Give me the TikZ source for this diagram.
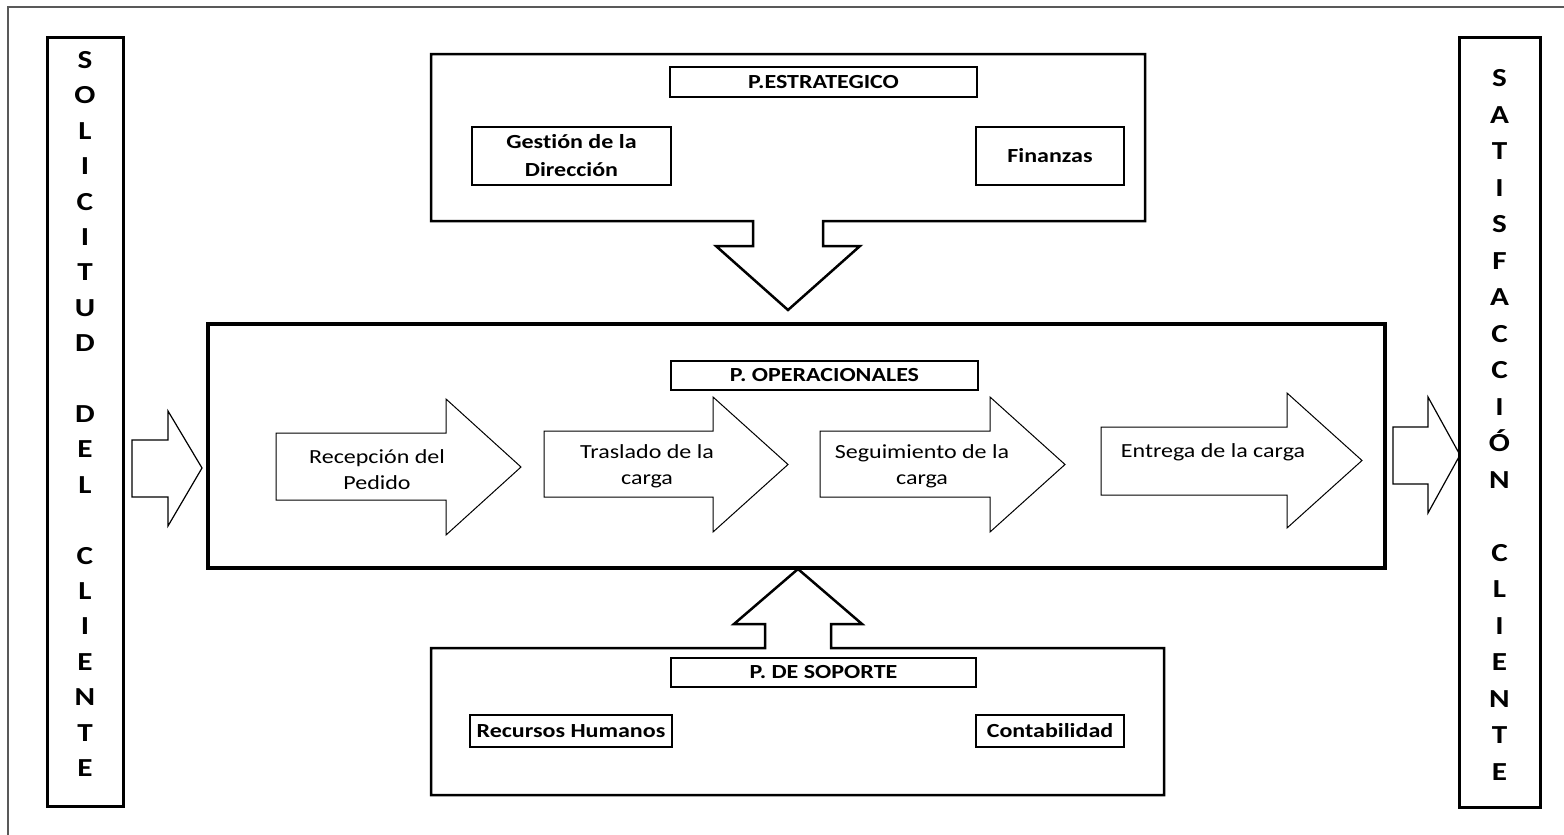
\documentclass[tikz,border=0pt]{standalone}
\usepackage{fontspec}
\setmainfont{Carlito}[FakeStretch=1.2, Ligatures=NoCommon]
\begin{document}
\begin{tikzpicture}[x=1pt,y=-1pt,
  frameline/.style={line width=1.3pt, draw=black!65},
  colbox/.style={draw, line width=3pt, inner sep=0pt},
  coltext/.style={font=\fontsize{26}{35.4}\selectfont\bfseries, align=center, inner sep=0pt},
  bigbox/.style={line width=2.5pt, line join=miter},
  opbox/.style={draw, line width=4pt, inner sep=0pt},
  lbl/.style={draw, line width=2pt, inner sep=0pt, align=center,
    font=\fontsize{20}{28}\selectfont\bfseries},
  blockarrow/.style={draw, line width=1pt, line join=miter},
  sidearrow/.style={draw, line width=1.2pt, line join=miter},
  txt/.style={inner sep=0pt, align=center, font=\fontsize{20}{26}\selectfont}
]
\useasboundingbox (0,0) rectangle (1564,835);
% outer frame (continues past the picture's edges)
\draw[frameline] (8,835) -- (8,7) -- (1564,7);

% side columns
\node[colbox, minimum width=76pt, minimum height=769pt] (sol) at (85,421.5) {};
\node[coltext] (soltxt) at (85,414) {S\\O\\L\\I\\C\\I\\T\\U\\D\\\mbox{}\\D\\E\\L\\\mbox{}\\C\\L\\I\\E\\N\\T\\E};
\node[colbox, minimum width=81pt, minimum height=770pt] (sat) at (1499.5,422) {};
\node[coltext, font=\fontsize{26}{36.5}\selectfont\bfseries] (sattxt) at (1499.5,424.75) {S\\A\\T\\I\\S\\F\\A\\C\\C\\I\\Ó\\N\\\mbox{}\\C\\L\\I\\E\\N\\T\\E};

% strategic processes, with the arrow down
\coordinate (estA) at (753,221);
\coordinate (estB) at (823,221);
\coordinate (esttip) at (788,310);
\draw[bigbox] (431,54) -- (1145,54) -- (1145,221) -- (estB) -- (823,246) -- (860,246)
  -- (esttip) -- (716,246) -- (753,246) -- (estA) -- (431,221) -- cycle;
\node[lbl, minimum width=307pt, minimum height=30pt] (pest) at (823.5,82) {P.ESTRATEGICO};
\node[lbl, minimum width=199pt, minimum height=58pt] (gest) at (571.5,156) {Gestión de la\\Dirección};
\node[lbl, minimum width=148pt, minimum height=58pt] (fin) at (1050,156) {Finanzas};

% operational processes
\node[opbox, minimum width=1177pt, minimum height=244pt] (op) at (796.5,446) {};
\node[lbl, minimum width=307pt, minimum height=29pt] (pop) at (824.5,375.5) {P. OPERACIONALES};

\draw[blockarrow] (276,433) -- (446,433) -- (446,399) -- (521,467) -- (446,535) -- (446,500) -- (276,500) -- cycle;
\node[txt] (a1) at (377,469.5) {Recepción del\\Pedido};
\draw[blockarrow] (544,431) -- (713,431) -- (713,397) -- (788,464.5) -- (713,532) -- (713,497) -- (544,497) -- cycle;
\node[txt] (a2) at (647,466) {Traslado de la\\carga};
\draw[blockarrow] (820,431) -- (990,431) -- (990,397) -- (1065,464.5) -- (990,532) -- (990,497) -- (820,497) -- cycle;
\node[txt] (a3) at (922,466) {Seguimiento de la\\carga};
\draw[blockarrow] (1101,427) -- (1287,427) -- (1287,393) -- (1362,460.5) -- (1287,528) -- (1287,495) -- (1101,495) -- cycle;
\node[txt] (a4) at (1213,452) {Entrega de la carga};

% side arrows
\draw[sidearrow] (132,440) -- (168,440) -- (168,411) -- (202,468) -- (168,526) -- (168,497) -- (132,497) -- cycle;
\draw[sidearrow] (1393,427) -- (1428,427) -- (1428,397) -- (1460,455) -- (1428,513) -- (1428,484) -- (1393,484) -- cycle;

% support processes, with the arrow up
\coordinate (sopA) at (765,648);
\coordinate (sopB) at (831,648);
\coordinate (soptip) at (798,569);
\draw[bigbox] (431,648) -- (sopA) -- (765,624) -- (734,624) -- (soptip) -- (862,624)
  -- (831,624) -- (sopB) -- (1164,648) -- (1164,795) -- (431,795) -- cycle;
\node[lbl, minimum width=305pt, minimum height=29pt] (psop) at (823.5,672.5) {P. DE SOPORTE};
\node[lbl, minimum width=202pt, minimum height=32pt] (rrhh) at (571,731) {Recursos Humanos};
\node[lbl, minimum width=148pt, minimum height=32pt] (cont) at (1050,731) {Contabilidad};
\end{tikzpicture}
\end{document}
